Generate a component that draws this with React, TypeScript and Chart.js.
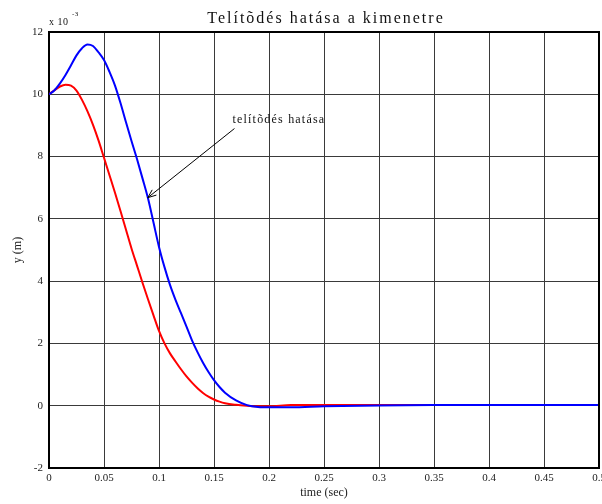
import React, { useEffect, useRef } from "react";
import { Chart, registerables } from "chart.js";

Chart.register(...registerables);

// Simulation time (s)
const timeSec = [
  0, 0.005, 0.01, 0.015, 0.02, 0.025, 0.03, 0.035, 0.04, 0.045, 0.05, 0.055,
  0.06, 0.065, 0.07, 0.075, 0.08, 0.085, 0.09, 0.095, 0.1, 0.105, 0.11, 0.115,
  0.12, 0.125, 0.13, 0.135, 0.14, 0.145, 0.15, 0.155, 0.16, 0.17, 0.18, 0.19,
  0.2, 0.22, 0.25, 0.3, 0.35, 0.4, 0.45, 0.5,
];

// Output y, in units of 10^-3 m, with actuator saturation
const withSaturation = [
  10.0, 10.13, 10.35, 10.62, 10.93, 11.25, 11.48, 11.6, 11.55, 11.35, 11.1,
  10.72, 10.28, 9.72, 9.1, 8.5, 7.92, 7.3, 6.66, 5.88, 5.1, 4.45, 3.88, 3.4,
  2.97, 2.54, 2.1, 1.72, 1.38, 1.08, 0.82, 0.6, 0.42, 0.17, 0.02, -0.04, -0.05,
  -0.05, -0.02, 0.01, 0.02, 0.02, 0.02, 0.02,
];

// Output y, in units of 10^-3 m, without saturation
const withoutSaturation = [
  10.0, 10.13, 10.25, 10.31, 10.28, 10.12, 9.82, 9.45, 9.02, 8.52, 7.96, 7.4,
  6.84, 6.25, 5.65, 5.05, 4.5, 3.95, 3.42, 2.9, 2.4, 2.0, 1.68, 1.42, 1.17,
  0.94, 0.74, 0.56, 0.41, 0.29, 0.2, 0.13, 0.08, 0.03, 0.0, -0.02, -0.02,
  0.02, 0.02, 0.02, 0.02, 0.02, 0.02, 0.02,
];

const xTicks = [0, 0.05, 0.1, 0.15, 0.2, 0.25, 0.3, 0.35, 0.4, 0.45, 0.5];
const yTicks = [-2, 0, 2, 4, 6, 8, 10, 12];

const titleText = "Telítõdés hatása a kimenetre";
const noteText = "telítõdés hatása";
const noteAnchor = { t: 0.0898, y: 6.68 };
const noteTextPos = { t: 0.1668, y: 9.08 };
const noteArrowStart = { t: 0.1686, y: 8.9 };

const SERIF = "'Liberation Serif', 'Times New Roman', serif";

const decorations = {
  id: "decorations",
  afterDraw(chart: any) {
    const { ctx, chartArea: a, scales } = chart;
    const xs = scales.x;
    const ys = scales.y;
    ctx.save();

    // frame on the top and right sides
    ctx.strokeStyle = "#000";
    ctx.lineWidth = 2;
    ctx.beginPath();
    ctx.moveTo(a.left, a.top);
    ctx.lineTo(a.right, a.top);
    ctx.lineTo(a.right, a.bottom);
    ctx.stroke();

    // title
    ctx.fillStyle = "#111";
    ctx.font = `16px ${SERIF}`;
    (ctx as any).letterSpacing = "2px";
    ctx.textAlign = "center";
    ctx.textBaseline = "alphabetic";
    ctx.fillText(titleText, (a.left + a.right) / 2 + 2, 23);

    // exponent of the y axis
    (ctx as any).letterSpacing = "0.5px";
    ctx.textAlign = "left";
    ctx.font = `10px ${SERIF}`;
    ctx.fillText("x 10", a.left, 25);
    ctx.font = `7px ${SERIF}`;
    ctx.fillText("-3", a.left + 23, 16);

    // annotation text
    (ctx as any).letterSpacing = "1.2px";
    ctx.font = `12px ${SERIF}`;
    ctx.fillText(
      noteText,
      xs.getPixelForValue(noteTextPos.t),
      ys.getPixelForValue(noteTextPos.y)
    );
    (ctx as any).letterSpacing = "0px";

    // annotation arrow
    const x0 = xs.getPixelForValue(noteArrowStart.t);
    const y0 = ys.getPixelForValue(noteArrowStart.y);
    const x1 = xs.getPixelForValue(noteAnchor.t);
    const y1 = ys.getPixelForValue(noteAnchor.y);
    ctx.strokeStyle = "#000";
    ctx.lineWidth = 1;
    ctx.beginPath();
    ctx.moveTo(x0, y0);
    ctx.lineTo(x1, y1);
    ctx.stroke();
    const ang = Math.atan2(y1 - y0, x1 - x0);
    const len = 9;
    const spread = 0.38;
    ctx.beginPath();
    ctx.moveTo(x1, y1);
    ctx.lineTo(x1 - len * Math.cos(ang - spread), y1 - len * Math.sin(ang - spread));
    ctx.moveTo(x1, y1);
    ctx.lineTo(x1 - len * Math.cos(ang + spread), y1 - len * Math.sin(ang + spread));
    ctx.stroke();
    ctx.restore();
  },
};

export default function App() {
  const canvasRef = useRef<HTMLCanvasElement | null>(null);

  useEffect(() => {
    const canvas = canvasRef.current;
    if (!canvas) return;
    const toPoints = (vals: number[]) => timeSec.map((t, i) => ({ x: t, y: vals[i] }));

    const chart = new Chart(canvas, {
      type: "line",
      data: {
        datasets: [
          {
            label: "telítõdéssel",
            data: toPoints(withSaturation),
            borderColor: "#0000ff",
            borderWidth: 2,
            pointRadius: 0,
            cubicInterpolationMode: "monotone",
            fill: false,
          },
          {
            label: "telítõdés nélkül",
            data: toPoints(withoutSaturation),
            borderColor: "#ff0000",
            borderWidth: 2,
            pointRadius: 0,
            cubicInterpolationMode: "monotone",
            fill: false,
          },
        ],
      },
      options: {
        responsive: false,
        animation: false,
        devicePixelRatio: 1,
        layout: { padding: { top: 32, right: 3, left: 0, bottom: 0 } },
        plugins: {
          legend: { display: false },
          tooltip: { enabled: false },
          title: { display: false },
        },
        scales: {
          x: {
            type: "linear",
            min: 0,
            max: 0.5,
            afterBuildTicks: (s: any) => {
              s.ticks = xTicks.map((v) => ({ value: v }));
            },
            afterFit: (s: any) => {
              s.height = 36;
              s.paddingLeft = 0;
              s.paddingRight = 0;
            },
            ticks: {
              autoSkip: false,
              maxRotation: 0,
              padding: 4,
              color: "#222",
              font: { family: SERIF, size: 11 },
              callback: (v: any) => String(Number(Number(v).toFixed(2))),
            },
            grid: { color: "#3a3a3a", lineWidth: 1, drawTicks: false },
            border: { display: true, color: "#000", width: 2 },
            title: {
              display: true,
              text: "time (sec)",
              color: "#222",
              font: { family: SERIF, size: 12 },
              padding: { top: 0, bottom: 4 },
            },
          },
          y: {
            type: "linear",
            min: -2,
            max: 12,
            afterBuildTicks: (s: any) => {
              s.ticks = yTicks.map((v) => ({ value: v }));
            },
            afterFit: (s: any) => {
              s.width = 49;
              s.paddingTop = 0;
              s.paddingBottom = 0;
            },
            ticks: {
              autoSkip: false,
              padding: 6,
              color: "#222",
              font: { family: SERIF, size: 11 },
            },
            grid: { color: "#3a3a3a", lineWidth: 1, drawTicks: false },
            border: { display: true, color: "#000", width: 2 },
            title: {
              display: true,
              text: "y (m)",
              color: "#222",
              font: { family: SERIF, size: 12 },
              padding: { top: 11, bottom: 0 },
            },
          },
        },
      },
      plugins: [decorations],
    });

    return () => chart.destroy();
  }, []);

  return (
    <div style={{ position: "absolute", left: 0, top: 0, width: 602, height: 504, background: "#fff" }}>
      <canvas ref={canvasRef} width={602} height={504} />
    </div>
  );
}
